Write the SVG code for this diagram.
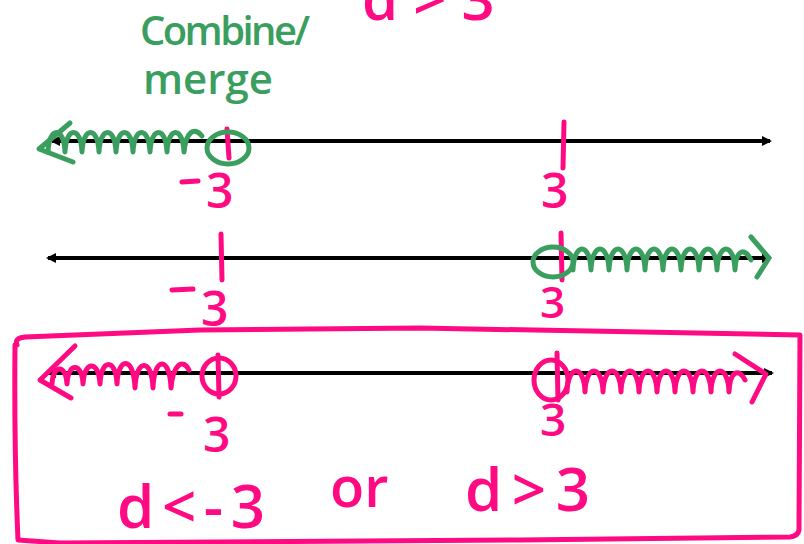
<svg xmlns="http://www.w3.org/2000/svg" width="804" height="544" viewBox="0 0 804 544">
<defs>
<marker id="ah" markerWidth="10" markerHeight="10" refX="8" refY="5" orient="auto-start-reverse" markerUnits="userSpaceOnUse"><path d="M0,0 L10,5 L0,10 Z" fill="#000"/></marker>
<style>
.axis{stroke:#000;stroke-width:4;fill:none}
.pk{stroke:#ff0a82;stroke-width:5;fill:none;stroke-linecap:round;stroke-linejoin:round}
.gr{stroke:#3a9e5f;stroke-width:5;fill:none;stroke-linecap:round;stroke-linejoin:round}
.tp{fill:#ff0a82;font-family:"Open Sans","DejaVu Sans",sans-serif;font-weight:600}
.tg{fill:#3a9e5f;font-family:"Open Sans","DejaVu Sans",sans-serif;font-weight:600}
</style>
</defs>
<rect width="804" height="544" fill="#fff"/>
<g id="connectors">
<line class="axis" x1="52" y1="141" x2="770" y2="141" marker-start="url(#ah)" marker-end="url(#ah)"/>
<line class="axis" x1="48" y1="258" x2="770" y2="258" marker-start="url(#ah)" marker-end="url(#ah)"/>
<line class="axis" x1="48" y1="373" x2="772" y2="373" marker-start="url(#ah)" marker-end="url(#ah)"/>
</g>
<g id="title">
<text class="tp" x="362" y="20" font-size="58">d &gt; 3</text>
</g>
<g id="note">
<text class="tg" x="140" y="45" font-size="40" textLength="170">Combine/</text>
<text class="tg" x="143" y="94" font-size="42">merge</text>
</g>
<g id="line1">
<path class="pk" d="M227 129 L229 158"/>
<path class="pk" d="M564 122 L563 168"/>
<path class="pk" d="M182 182 L198 181"/>
<text class="tp" x="206" y="208" font-size="48">3</text>
<text class="tp" x="541" y="208" font-size="48">3</text>
<ellipse class="gr" cx="228" cy="148" rx="21" ry="16"/>
<path class="gr" d="M70 123 L39 149 L73 162"/>
<path class="gr" d="M48 152 c1 -26 16 -26 17 0 c1 -26 16 -26 17 0 c1 -26 16 -26 17 0 c1 -26 16 -26 17 0 c1 -26 16 -26 17 0 c1 -26 16 -26 17 0 c1 -26 16 -26 17 0 c1 -26 16 -26 17 0 c2 -20 10 -26 18 -16"/>
</g>
<g id="line2">
<path class="pk" d="M221 234 L222 280"/>
<path class="pk" d="M561 233 L562 280"/>
<path class="pk" d="M172 290 L193 289"/>
<text class="tp" x="201" y="326" font-size="48">3</text>
<text class="tp" x="540" y="318" font-size="44">3</text>
<ellipse class="gr" cx="553" cy="262" rx="20" ry="15"/>
<path class="gr" d="M573 270 c1 -28 17 -28 18 0 c1 -28 17 -28 18 0 c1 -28 17 -28 18 0 c1 -28 17 -28 18 0 c1 -28 17 -28 18 0 c1 -28 17 -28 18 0 c1 -28 17 -28 18 0 c1 -28 17 -28 18 0 c1 -28 17 -28 18 0 c1 -22 10 -22 16 -10"/>
<path class="gr" d="M751 237 L769 258 L757 277"/>
</g>
<g id="line3">
<ellipse class="pk" cx="219" cy="376" rx="17" ry="18"/>
<path class="pk" d="M218 355 L219 397"/>
<path class="pk" d="M75 346 L40 380 L71 398"/>
<path class="pk" d="M52 384 c1 -20 14 -20 15 0 c1 -22 15 -22 16 0 c1 -24 16 -24 17 0 c1 -26 16 -26 17 0 c1 -28 17 -28 18 4 c1 -30 17 -30 18 0 c1 -32 17 -32 18 0 c2 -24 12 -30 18 -18"/>
<path class="pk" d="M170 414 L181 414"/>
<text class="tp" x="203" y="452" font-size="48">3</text>
<ellipse class="pk" cx="551" cy="380" rx="17" ry="20"/>
<path class="pk" d="M557 353 L558 400"/>
<path class="pk" d="M567 392 c1 -28 17 -28 18 0 c1 -28 17 -28 18 0 c1 -28 17 -28 18 0 c1 -28 17 -28 18 0 c1 -28 17 -28 18 0 c1 -28 17 -28 18 0 c1 -28 17 -28 18 0 c1 -28 17 -28 18 0 c1 -28 17 -28 18 0 c1 -22 10 -24 16 -12"/>
<path class="pk" d="M735 354 L766 374 L752 402"/>
<text class="tp" x="540" y="436" font-size="46">3</text>
</g>
<g id="answer">
<path class="pk" d="M17 345 Q14 338 25 337 L200 330 L420 328 L800 335 L799 530 Q798 536 790 537 L520 540 L60 543 L18 540 Q14 450 15 345"/>
<text class="tp" x="117" y="528" font-size="60" textLength="148">d&lt;-3</text>
<text class="tp" x="330" y="507" font-size="56">or</text>
<text class="tp" x="465" y="511" font-size="60" textLength="125">d&gt;3</text>
</g>
</svg>
